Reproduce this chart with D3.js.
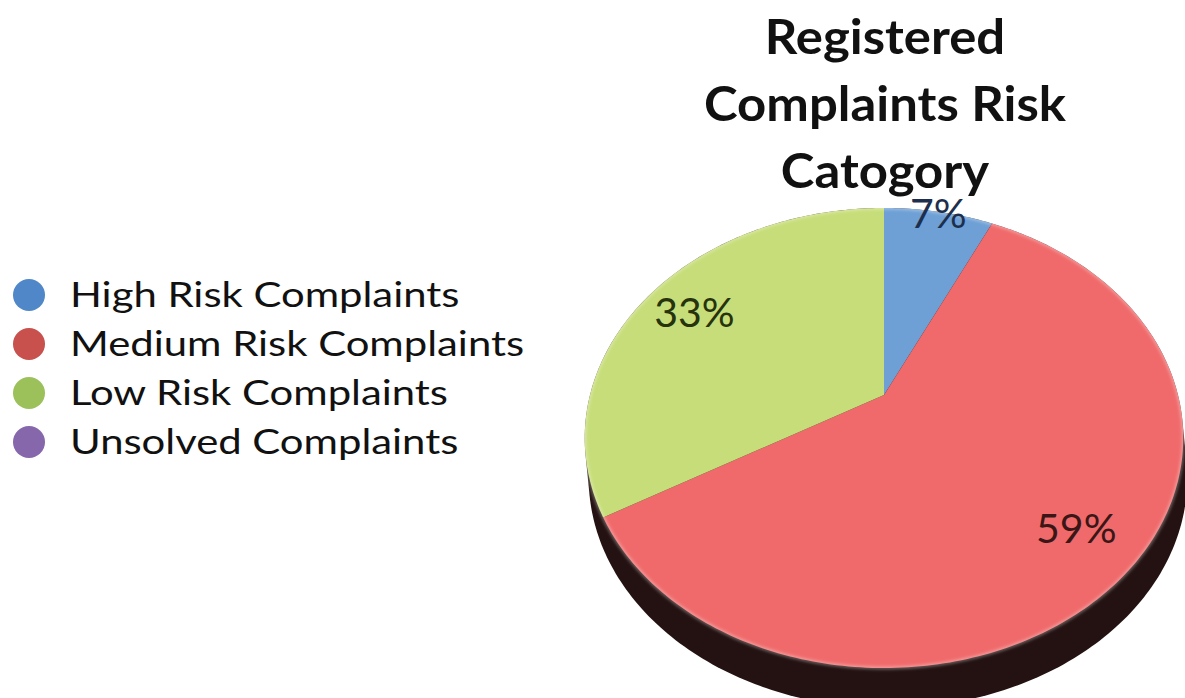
<!DOCTYPE html>
<html>
<head>
<meta charset="utf-8">
<title>Registered Complaints Risk Catogory</title>
<script src="https://d3js.org/d3.v7.min.js"></script>
<style>
  body { margin: 0; background: #fff; }
  svg { display: block; }
  .legend text { font-family: Lato, "Noto Sans", sans-serif; font-size: 34px; fill: #111; }
  .title { font-family: Lato, "Noto Sans", sans-serif; font-weight: bold; font-size: 48px; fill: #111; text-anchor: middle; }
  .lbl { font-family: Lato, "Noto Sans", sans-serif; font-size: 41px; text-anchor: middle; }
</style>
</head>
<body>
<svg width="1185" height="698"></svg>
<script>
// data
var categories = ["High Risk Complaints", "Medium Risk Complaints", "Low Risk Complaints", "Unsolved Complaints"];
var values = [7, 59, 33, 0];
var percentLabels = ["7%", "59%", "33%", ""];
var titleLines = ["Registered", "Complaints Risk", "Catogory"];

// styling
var faceColors = ["#6ea0d6", "#f06a6b", "#c7dd79", "#9b7fc0"];
var legendColors = ["#4f87c9", "#c8504d", "#9cc15a", "#8767ac"];
var labelColors = ["#1d2f4d", "#3a1616", "#26330d", "#222"];
var labelRadius = [0.99, 0.8, 0.8, 0.8];

var svg = d3.select("svg");

// perspective projection of the pie disc
var P = { cx: 884, cy: 395, a: 294, b: 222, p: -0.187 };
function proj(angle, f) {
  var u = f * Math.sin(angle), v = -f * Math.cos(angle);
  var w = 1 + P.p * v;
  return [P.cx + P.a * u / w, P.cy + P.b * v / w];
}
var depth = 40;

var pie = d3.pie().sort(null).value(function(d) { return d; });
var arcs = pie(values);
var line = d3.line();

// side wall: hull of the rim and the rim moved down
var rim = d3.range(0, 360).map(function(i) { return proj(i * Math.PI / 180, 1); });
var hull = d3.polygonHull(rim.concat(rim.map(function(p) { return [p[0] + 4, p[1] + depth]; })));
svg.append("path")
  .attr("d", line(hull) + "Z")
  .attr("fill", "#231211");

var defs = svg.append("defs");
defs.append("filter").attr("id", "soft")
  .append("feGaussianBlur").attr("stdDeviation", 1.5);

// top face slices
var slices = svg.append("g");
arcs.forEach(function(d, i) {
  if (d.value <= 0) return;
  var n = Math.max(2, Math.ceil((d.endAngle - d.startAngle) * 60));
  var pts = [proj(0, 0)];
  for (var k = 0; k <= n; k++) {
    pts.push(proj(d.startAngle + (d.endAngle - d.startAngle) * k / n, 1));
  }
  slices.append("path")
    .attr("d", line(pts) + "Z")
    .attr("fill", faceColors[i]);
});

// light rim highlight
svg.append("path")
  .attr("d", line(rim) + "Z")
  .attr("fill", "none")
  .attr("stroke", "rgba(255,255,255,0.35)")
  .attr("stroke-width", 3)
  .attr("filter", "url(#soft)");

// percent labels
arcs.forEach(function(d, i) {
  if (d.value <= 0) return;
  var mid = (d.startAngle + d.endAngle) / 2;
  var p = proj(mid, labelRadius[i]);
  svg.append("text")
    .attr("class", "lbl")
    .attr("x", p[0])
    .attr("y", p[1])
    .attr("dy", "0.35em")
    .attr("fill", labelColors[i])
    .text(percentLabels[i]);
});

// title
svg.append("g").selectAll("text")
  .data(titleLines)
  .join("text")
  .attr("class", "title")
  .attr("transform", function(d, i) { return "translate(885," + (54 + i * 67) + ") scale(1.06,1)"; })
  .text(function(d) { return d; });

// legend
var legend = svg.append("g").attr("class", "legend");
var rows = legend.selectAll("g")
  .data(categories)
  .join("g")
  .attr("transform", function(d, i) { return "translate(0," + (295 + i * 49) + ")"; });
rows.append("circle")
  .attr("cx", 29)
  .attr("cy", 0)
  .attr("r", 16)
  .attr("fill", function(d, i) { return legendColors[i]; });
rows.append("text")
  .attr("transform", "translate(70,0) scale(1.23,1)")
  .attr("dy", "0.35em")
  .text(function(d) { return d; });
</script>
</body>
</html>
